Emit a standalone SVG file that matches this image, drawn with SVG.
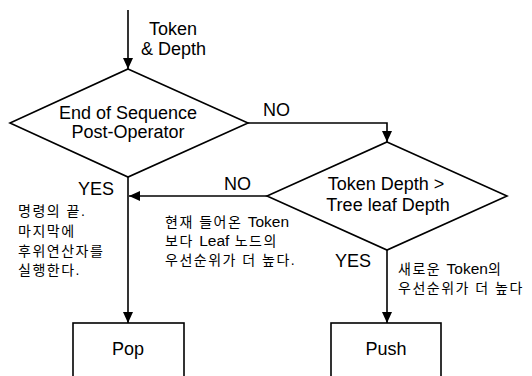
<svg xmlns="http://www.w3.org/2000/svg" width="532" height="376" viewBox="0 0 532 376">
  <style>
    .shape { fill: #ffffff; stroke: #000000; stroke-width: 1.6; }
    .wire { fill: none; stroke: #000000; stroke-width: 1.6; }
    .lbl { font-family: "Liberation Sans", Arial, sans-serif; font-size: 18px; fill: #000000; }
    .mid { text-anchor: middle; }
    .note { font-family: "Liberation Sans", "Noto Sans CJK KR", sans-serif; font-size: 14px; letter-spacing: 1.5px; fill: #000000; }
    .note .lat { font-size: 15.5px; letter-spacing: 0px; }
  </style>
  <defs>
    <marker id="arrow" markerUnits="userSpaceOnUse" markerWidth="12" markerHeight="10" viewBox="0 0 12 10" refX="11" refY="5" orient="auto">
      <path d="M0,0 L11,5 L0,10 z" fill="#000000"/>
    </marker>
  </defs>
  <rect width="532" height="376" fill="#ffffff"/>

  <!-- connectors -->
  <g id="connectors">
    <line class="wire" x1="128" y1="10" x2="128" y2="69" marker-end="url(#arrow)"/>
    <polyline class="wire" points="248,123 387,123 387,142" marker-end="url(#arrow)"/>
    <line class="wire" x1="267" y1="196" x2="129" y2="196" marker-end="url(#arrow)"/>
    <line class="wire" x1="128" y1="177" x2="128" y2="323" marker-end="url(#arrow)"/>
    <line class="wire" x1="387" y1="250" x2="387" y2="323" marker-end="url(#arrow)"/>
    <text class="lbl" x="149" y="35">Token</text>
    <text class="lbl" x="141" y="55">&amp; Depth</text>
    <text class="lbl" x="263" y="116">NO</text>
    <text class="lbl" x="224" y="190">NO</text>
    <text class="lbl" x="78" y="195">YES</text>
    <text class="lbl" x="335" y="267">YES</text>
  </g>

  <!-- decision: end of sequence -->
  <g id="end-of-sequence">
    <polygon class="shape" points="128,69 248,123 128,177 10,123"/>
    <text class="lbl mid" x="128" y="119">End of Sequence</text>
    <text class="lbl mid" x="128" y="138">Post-Operator</text>
  </g>

  <!-- decision: depth comparison -->
  <g id="depth-compare">
    <polygon class="shape" points="387,142 507,196 387,250 267,196"/>
    <text class="lbl mid" x="386" y="190">Token Depth &gt;</text>
    <text class="lbl mid" x="388" y="211">Tree leaf Depth</text>
  </g>

  <!-- actions -->
  <g id="pop">
    <rect class="shape" x="73" y="323" width="111" height="70"/>
    <text class="lbl mid" x="128" y="355">Pop</text>
  </g>
  <g id="push">
    <rect class="shape" x="331" y="323" width="110" height="70"/>
    <text class="lbl mid" x="386" y="355">Push</text>
  </g>

  <!-- annotations -->
  <g id="note-pop">
    <text class="note" x="18" y="216">명령의 끝.</text>
    <text class="note" x="18" y="236">마지막에</text>
    <text class="note" x="18" y="256">후위연산자를</text>
    <text class="note" x="18" y="275">실행한다.</text>
  </g>
  <g id="note-leaf">
    <text class="note" x="165" y="227">현재 들어온 <tspan class="lat">Token</tspan></text>
    <text class="note" x="165" y="246">보다 <tspan class="lat">Leaf</tspan> 노드의</text>
    <text class="note" x="165" y="265">우선순위가 더 높다.</text>
  </g>
  <g id="note-token">
    <text class="note" x="398" y="274">새로운 <tspan class="lat">Token</tspan>의</text>
    <text class="note" x="398" y="293">우선순위가 더 높다</text>
  </g>
</svg>
